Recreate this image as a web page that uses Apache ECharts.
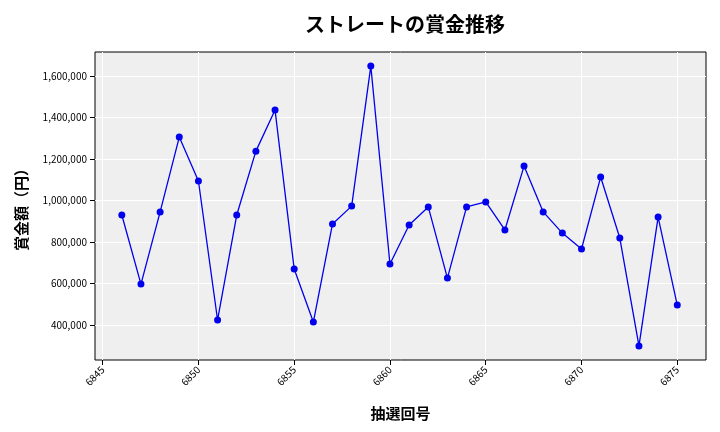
<!DOCTYPE html>
<html>
<head>
<meta charset="utf-8">
<script src="https://cdn.jsdelivr.net/npm/echarts@6/dist/echarts.min.js"></script>
<style>html,body{margin:0;padding:0;background:#fff}#chart{width:720px;height:432px}</style>
</head>
<body>
<div id="chart"></div>
<script>
var draws = [6846,6847,6848,6849,6850,6851,6852,6853,6854,6855,6856,6857,6858,6859,6860,
    6861,6862,6863,6864,6865,6866,6867,6868,6869,6870,6871,6872,6873,6874,6875];
var prize = [930000,597000,945000,1306000,1094000,424000,930000,1238000,1436000,670000,
    414000,887000,973000,1648000,694000,882000,969000,626000,969000,993000,
    858000,1166000,945000,843000,766000,1113000,819000,299000,920000,496000];
var xTicks = [6845,6850,6855,6860,6865,6870,6875];
var yTicks = [400000,600000,800000,1000000,1200000,1400000,1600000];

var font = '"Noto Sans CJK JP", "DejaVu Sans", sans-serif';
var chart = echarts.init(document.getElementById('chart'));

var points = [];
for (var i = 0; i < draws.length; i++) points.push([draws[i], prize[i]]);

chart.setOption({
    animation: false,
    title: {
        text: 'ストレートの賞金推移',
        left: 400, top: 9, textAlign: 'center',
        textStyle: { fontFamily: font, fontSize: 20, fontWeight: 'bold', color: '#000' }
    },
    grid: {
        left: 95, right: 14, top: 52, bottom: 72,
        show: true, backgroundColor: '#efefef', borderColor: '#000', borderWidth: 1
    },
    xAxis: {
        type: 'value', min: 6844.6, max: 6876.5,
        name: '抽選回号', nameLocation: 'middle', nameGap: 46,
        nameTextStyle: { fontFamily: font, fontSize: 15, fontWeight: 'bold', color: '#000' },
        axisLine: { show: false },
        axisTick: { show: true, customValues: xTicks, lineStyle: { color: '#000' } },
        axisLabel: {
            customValues: xTicks, rotate: 45, fontSize: 10, color: '#000', fontFamily: font,
            formatter: function (v) { return String(v); }
        },
        splitLine: { show: true, lineStyle: { color: '#fff', width: 1 } }
    },
    yAxis: {
        type: 'value', min: 231000, max: 1716000,
        name: '賞金額（円）', nameLocation: 'middle', nameGap: 66,
        nameTextStyle: { fontFamily: font, fontSize: 15, fontWeight: 'bold', color: '#000' },
        axisLine: { show: false },
        axisTick: { show: true, customValues: yTicks, lineStyle: { color: '#000' } },
        axisLabel: {
            customValues: yTicks, fontSize: 10, color: '#000', fontFamily: font,
            formatter: function (v) { return v.toLocaleString('en-US'); }
        },
        splitLine: { show: true, lineStyle: { color: '#fff', width: 1 } }
    },
    series: [{
        type: 'line',
        data: points,
        symbol: 'circle', symbolSize: 7,
        lineStyle: { color: '#0000ee', width: 1.3 },
        itemStyle: { color: '#0000ee' }
    }]
});
</script>
</body>
</html>
